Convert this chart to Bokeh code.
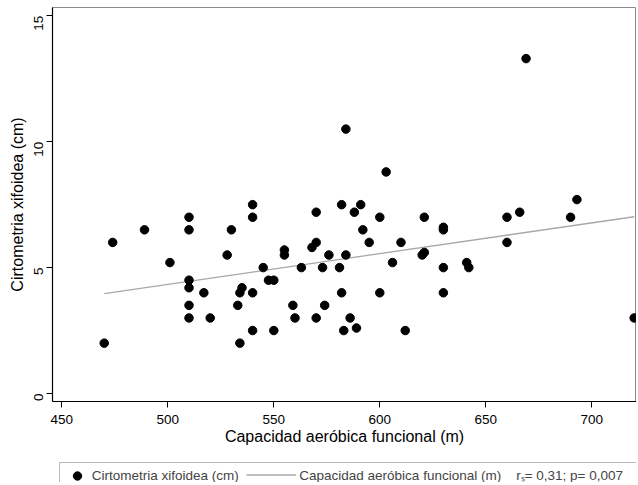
import math
from bokeh.plotting import figure
from bokeh.layouts import column
from bokeh.models import Range1d, FixedTicker, Legend, LegendItem
from bokeh.embed import file_html
from bokeh.resources import INLINE

# Capacidad aeróbica funcional (m)
capacidad_m = [470, 474, 489, 501, 510, 510, 510, 510, 510, 510,
               517, 520, 528, 530, 533, 534, 534, 535, 540, 540,
               540, 540, 545, 547.5, 550, 550, 555, 555, 559, 560,
               563, 568, 570, 570, 570, 573, 574, 576, 581, 582,
               582, 583, 584, 584, 586, 588, 589, 591, 592, 595,
               600, 600, 603, 606, 610, 612, 620, 621, 621, 630,
               630, 630, 630, 641, 642, 660, 660, 666, 669, 690,
               693, 720]
# Cirtometria xifoidea (cm)
cirtometria_cm = [2.0, 6.0, 6.5, 5.2, 7.0, 6.5, 4.5, 4.2, 3.5, 3.0,
                  4.0, 3.0, 5.5, 6.5, 3.5, 4.0, 2.0, 4.2, 7.5, 7.0,
                  4.0, 2.5, 5.0, 4.5, 4.5, 2.5, 5.7, 5.5, 3.5, 3.0,
                  5.0, 5.8, 7.2, 6.0, 3.0, 5.0, 3.5, 5.5, 5.0, 7.5,
                  4.0, 2.5, 10.5, 5.5, 3.0, 7.2, 2.6, 7.5, 6.5, 6.0,
                  7.0, 4.0, 8.8, 5.2, 6.0, 2.5, 5.5, 5.6, 7.0, 6.6,
                  6.5, 5.0, 4.0, 5.2, 5.0, 7.0, 6.0, 7.2, 13.3, 7.0,
                  7.7, 3.0]
# fitted line
fit_x = [470, 720]
fit_y = [3.97, 7.02]

x_ticks = [450, 500, 550, 600, 650, 700]
y_ticks = [0, 5, 10, 15]

label_pts = "Cirtometria xifoidea (cm)"
label_fit = "Capacidad aeróbica funcional (m)"
label_stat = "rₛ= 0,31; p= 0,007"

FONT = "Liberation Sans"
PT_STYLE = dict(size=8.5, marker="circle", fill_color="black", line_color="black")
LINE_STYLE = dict(line_color="#a8a8a8", line_width=1.3)

p = figure(width=636, height=452, output_backend="svg", toolbar_location=None,
           x_range=Range1d(445.6, 721.1), y_range=Range1d(-0.318, 15.33),
           min_border_left=52, min_border_right=0, min_border_top=7,
           min_border_bottom=51)

p.grid.visible = False
p.outline_line_color = "#8a8a8a"
p.outline_line_width = 1
p.background_fill_color = "white"
p.border_fill_color = "white"

p.line(fit_x, fit_y, **LINE_STYLE)
p.scatter(capacidad_m, cirtometria_cm, **PT_STYLE)

for ax in (p.xaxis[0], p.yaxis[0]):
    ax.axis_line_color = "black"
    ax.axis_line_width = 1.2
    ax.major_tick_line_color = "black"
    ax.major_tick_out = 6
    ax.major_tick_in = 0
    ax.minor_tick_line_color = None
    ax.major_label_text_font = FONT
    ax.major_label_text_font_size = "13.5px"
    ax.major_label_text_color = "black"
    ax.axis_label_text_font = FONT
    ax.axis_label_text_font_size = "16px"
    ax.axis_label_text_font_style = "normal"
    ax.axis_label_text_color = "black"

p.xaxis[0].ticker = FixedTicker(ticks=x_ticks)
p.yaxis[0].ticker = FixedTicker(ticks=y_ticks)
p.xaxis[0].axis_label = label_fit
p.yaxis[0].axis_label = label_pts
p.xaxis[0].major_label_standoff = 7
p.xaxis[0].axis_label_standoff = 1
p.yaxis[0].major_label_standoff = 8
p.yaxis[0].axis_label_standoff = 1
p.yaxis[0].major_label_orientation = math.pi / 2

# legend strip below the chart (its frame is aligned with the chart frame)
lg = figure(width=636, height=30, output_backend="svg", toolbar_location=None,
            x_range=Range1d(0, 1), y_range=Range1d(0, 1),
            x_axis_type=None, y_axis_type=None,
            min_border_left=0, min_border_right=0, min_border_top=0,
            min_border_bottom=0)
lg.grid.visible = False
lg.outline_line_color = None
lg.border_fill_color = "white"
# same data, outside this strip's ranges: used only as legend glyphs
pts_key = lg.scatter(capacidad_m, cirtometria_cm, **PT_STYLE)
line_key = lg.line(fit_x, fit_y, **LINE_STYLE)

leg_a = Legend(items=[LegendItem(label=label_pts, renderers=[pts_key])],
               location=(6.7, -6.6), orientation="horizontal",
               glyph_width=30, glyph_height=21, label_height=21,
               label_width=560, label_standoff=-4, padding=2, margin=0,
               label_text_font=FONT, label_text_font_size="13.5px",
               border_line_color="#777777", border_line_width=1,
               background_fill_color="white", background_fill_alpha=1.0)
nb = "\u00a0" * 4
leg_b = Legend(items=[LegendItem(label=label_fit + nb + label_stat, renderers=[line_key])],
               location=(194.3, -3.2), orientation="horizontal",
               glyph_width=50, glyph_height=21, label_height=21,
               label_standoff=3, padding=0, margin=0,
               label_text_font=FONT, label_text_font_size="13.5px",
               border_line_color=None, background_fill_alpha=0.0)
lg.add_layout(leg_a, "center")
lg.add_layout(leg_b, "center")

layout = column(p, lg, spacing=0)
open("out.html", "w").write(file_html(layout, INLINE))
